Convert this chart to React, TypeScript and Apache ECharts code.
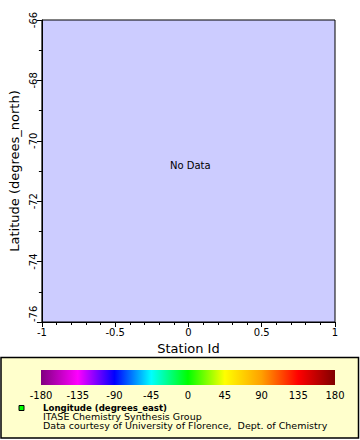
import React, { useEffect, useRef } from "react";
import * as echarts from "echarts";

// Chart content
const xTickLabels = ["-1", "-0.5", "0", "0.5", "1"];
const yTickLabels = ["-76", "-74", "-72", "-70", "-68", "-66"];
const stationIds: number[] = [];
const latitudes: number[] = [];
const noDataText = "No Data";

// Colorbar (longitude, degrees_east)
const colorbarValues = [-180, -135, -90, -45, 0, 45, 90, 135, 180];
const colorbarColors = [
  "#800080",
  "#ff00ff",
  "#0000ff",
  "#00ffff",
  "#00ff00",
  "#ffff00",
  "#ffa000",
  "#ff0000",
  "#800000",
];
const legendLines = [
  "Longitude (degrees_east)",
  "ITASE Chemistry Synthesis Group",
  "Data courtesy of University of Florence,  Dept. of Chemistry",
];

const FONT = "DejaVu Sans";

export default function App() {
  const ref = useRef<HTMLDivElement>(null);
  useEffect(() => {
    if (!ref.current) return;
    const chart = echarts.init(ref.current, null, { renderer: "svg" });
    const gL = 37, gT = 20, gW = 298, gH = 302;
    const cbL = 41, cbT = 370, cbW = 294, cbH = 15;
    const cMin = colorbarValues[0];
    const cMax = colorbarValues[colorbarValues.length - 1];
    const stops = colorbarValues.map((v, i) => ({
      offset: (v - cMin) / (cMax - cMin),
      color: colorbarColors[i],
    }));
    const xMin = parseFloat(xTickLabels[0]);
    const xMax = parseFloat(xTickLabels[xTickLabels.length - 1]);
    const yMin = parseFloat(yTickLabels[0]);
    const yMax = parseFloat(yTickLabels[yTickLabels.length - 1]);
    const legendTexts = legendLines.map((t, i) => ({
      type: "text",
      x: 43,
      y: 408 + i * 9,
      scaleX: i === 0 ? 1 : 1.055,
      style: {
        text: t,
        fill: "#000",
        font: i === 0 ? `bold 8.6px '${FONT}'` : `9px '${FONT}'`,
        textVerticalAlign: "middle",
      },
      z: 1,
    }));
    chart.setOption({
      animation: false,
      textStyle: { fontFamily: FONT },
      grid: [
        {
          left: gL,
          top: gT,
          width: gW,
          height: gH,
          show: true,
          backgroundColor: "#ccccff",
          borderColor: "#000",
          borderWidth: 1,
        },
        { left: cbL, top: cbT, width: cbW, height: cbH, show: false },
      ],
      xAxis: [
        {
          type: "value",
          gridIndex: 0,
          min: xMin,
          max: xMax,
          interval: 0.5,
          name: "Station Id",
          nameLocation: "middle",
          nameGap: 19,
          nameTextStyle: { color: "#000", fontSize: 13, fontFamily: FONT },
          axisLine: { show: true, onZero: false, lineStyle: { color: "#000", width: 1 } },
          axisTick: { show: true, length: 5, lineStyle: { color: "#000" } },
          minorTick: { show: true, splitNumber: 5, length: 3, lineStyle: { color: "#000" } },
          splitLine: { show: false },
          axisLabel: {
            color: "#000",
            fontSize: 10,
            margin: 5,
            fontFamily: FONT,
            formatter: (v: number) => String(v),
          },
        },
        {
          type: "value",
          gridIndex: 1,
          min: cMin,
          max: cMax,
          interval: 45,
          axisLine: { show: false },
          axisTick: { show: false },
          splitLine: { show: false },
          axisLabel: { color: "#000", fontSize: 10, margin: 5, fontFamily: FONT },
        },
      ],
      yAxis: [
        {
          type: "value",
          gridIndex: 0,
          min: yMin,
          max: yMax,
          interval: 2,
          name: "Latitude (degrees_north)",
          nameLocation: "middle",
          nameGap: 18,
          nameRotate: 90,
          nameTextStyle: { color: "#000", fontSize: 13, fontFamily: FONT },
          axisLine: { show: true, onZero: false, lineStyle: { color: "#000", width: 1 } },
          axisTick: { show: true, length: 5, lineStyle: { color: "#000" } },
          minorTick: { show: true, splitNumber: 2, length: 3, lineStyle: { color: "#000" } },
          splitLine: { show: false },
          axisLabel: {
            color: "#000",
            fontSize: 10,
            margin: 3,
            rotate: 90,
            fontFamily: FONT,
            alignMinLabel: "left",
          },
        },
        { type: "value", gridIndex: 1, show: false, min: 0, max: 1 },
      ],
      series: [
        {
          type: "scatter",
          xAxisIndex: 0,
          yAxisIndex: 0,
          data: stationIds.map((s, i) => [s, latitudes[i]]),
        },
      ],
      graphic: [
        {
          type: "text",
          left: 190 - 20,
          top: 166 - 6,
          style: { text: noDataText, fill: "#000", font: `10px '${FONT}'` },
        },
        {
          type: "rect",
          shape: { x: 1, y: 357.5, width: 357.5, height: 80.5 },
          style: { fill: "#ffffcc", stroke: "#000", lineWidth: 1.5 },
          z: 0,
        },
        {
          type: "rect",
          shape: { x: cbL, y: cbT, width: cbW, height: cbH },
          style: {
            fill: new echarts.graphic.LinearGradient(0, 0, 1, 0, stops),
          },
          z: 1,
        },
        {
          type: "rect",
          shape: { x: 19, y: 405.5, width: 5, height: 5 },
          style: { fill: "#00ff00", stroke: "#000", lineWidth: 1 },
          z: 1,
        },
        ...legendTexts,
      ],
    });
    return () => chart.dispose();
  }, []);
  return (
    <div
      ref={ref}
      style={{ position: "fixed", left: 0, top: 0, width: 360, height: 440, background: "#fff" }}
    />
  );
}
